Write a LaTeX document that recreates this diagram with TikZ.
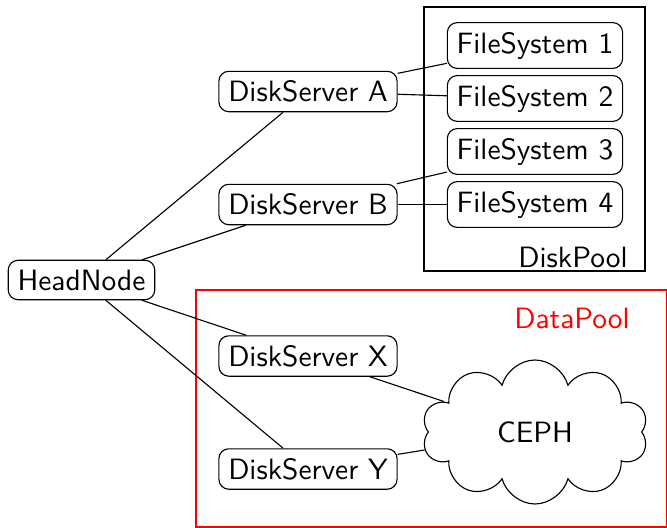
\documentclass[tikz,border=0pt]{standalone}
\usetikzlibrary{shapes.symbols}
\begin{document}
\begin{tikzpicture}[x=0.357pt,y=-0.357pt, font=\sffamily\fontsize{10.5}{12.6}\selectfont,
  box/.style={draw, rounded corners=3.5pt, line width=0.4pt},
  poolbox/.style={draw, line width=0.8pt},
  link/.style={draw, line width=0.4pt}]
\useasboundingbox (0,0) rectangle (667,528);
\draw[poolbox, red] (196,290) rectangle (667,527);
\draw[poolbox] (424,7) rectangle (645,271);
\node (hn) [box] at (81.5,280) {HeadNode};
\node (da) [box] at (308,91.5) {DiskServer A};
\node (db) [box] at (308,204.5) {DiskServer B};
\node (dx) [box] at (308,356) {DiskServer X};
\node (dy) [box] at (308,469) {DiskServer Y};
\node (f1) [box] at (535,45.5) {FileSystem 1};
\node (f2) [box] at (535,98.5) {FileSystem 2};
\node (f3) [box] at (535,151.5) {FileSystem 3};
\node (f4) [box] at (535,204.5) {FileSystem 4};
\node (ceph) [draw, cloud, cloud puffs=10, aspect=1.57, minimum width=80.7pt, minimum height=51.4pt, inner sep=0pt] at (535,432) {CEPH};
\node (dkp) at (573,257) {DiskPool};
\node (dtp) [red] at (572,318) {DataPool};
\draw[link] (hn) -- (da);
\draw[link] (hn) -- (db);
\draw[link] (hn) -- (dx);
\draw[link] (hn) -- (dy);
\draw[link] (da) -- (f1);
\draw[link] (da) -- (f2);
\draw[link] (db) -- (f3);
\draw[link] (db) -- (f4);
\draw[link] (dx) -- (ceph);
\draw[link] (dy) -- (ceph);
\end{tikzpicture}
\end{document}
